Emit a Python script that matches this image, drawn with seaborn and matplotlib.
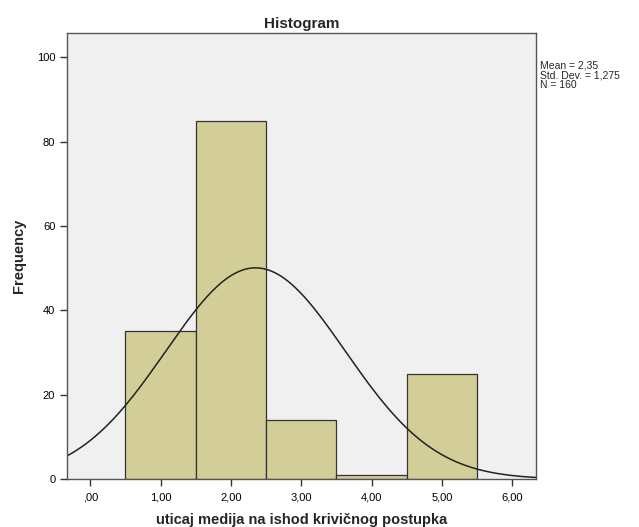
import numpy as np
import pandas as pd
import matplotlib
matplotlib.use("Agg")
import matplotlib.pyplot as plt
from matplotlib.ticker import FuncFormatter
import seaborn as sns

# Datos del histograma (valores de la escala y frecuencias)
vrednosti = [1, 2, 3, 4, 5]
frekvencije = [35, 85, 14, 1, 25]
x_ticks = [0, 1, 2, 3, 4, 5, 6]
y_ticks = [0, 20, 40, 60, 80, 100]

sns.set_style("white")
plt.rcParams["font.family"] = ["Liberation Sans", "DejaVu Sans"]

df = pd.DataFrame({"vrednost": vrednosti, "n": frekvencije})
n = df["n"].sum()
mean = (df["vrednost"] * df["n"]).sum() / n
sd = np.sqrt((df["n"] * (df["vrednost"] - mean) ** 2).sum() / (n - 1))

fig = plt.figure(figsize=(6.39, 5.27), dpi=100)
ax = fig.add_axes([0.105, 0.091, 0.734, 0.846])
ax.set_facecolor("#F0F0F0")

sns.histplot(data=df, x="vrednost", weights="n", discrete=True, ax=ax,
             color="#D3CE97", alpha=1, edgecolor="#333333", linewidth=0.9)

# Normalna kriva
xs = np.linspace(-0.4, 6.4, 300)
ys = n * 1.0 * np.exp(-0.5 * ((xs - mean) / sd) ** 2) / (sd * np.sqrt(2 * np.pi))
sns.lineplot(x=xs, y=ys, ax=ax, color="#222222", linewidth=1.1)

ax.set_xlim(-0.33, 6.34)
ax.set_ylim(0, 105.7)
ax.set_xticks(x_ticks)
ax.set_yticks(y_ticks)
ax.xaxis.set_major_formatter(FuncFormatter(
    lambda v, p: ("%.2f" % v).replace(".", ",").lstrip("0") if v == 0 else ("%.2f" % v).replace(".", ",")))
ax.tick_params(axis="both", direction="out", length=5, width=1, colors="#333333",
               labelsize=8, labelcolor="black", bottom=True, left=True)
ax.tick_params(axis="x", pad=5)
for s in ax.spines.values():
    s.set_color("#555555")
    s.set_linewidth(1)

ax.set_title("Histogram", fontsize=11, fontweight="bold", pad=4)
ax.set_xlabel("uticaj medija na ishod krivičnog postupka", fontsize=10.5, fontweight="bold", labelpad=7)
ax.set_ylabel("Frequency", fontsize=10.5, fontweight="bold", labelpad=8)

txt = "Mean = %s\nStd. Dev. = %s\nN = %d" % (("%.2f" % mean).replace(".", ","),
                                              ("%.3f" % sd).replace(".", ","), n)
fig.text(0.845, 0.886, txt, fontsize=7.5, va="top", ha="left", linespacing=1.0)

fig.savefig("out.png", dpi=100, facecolor="white")
